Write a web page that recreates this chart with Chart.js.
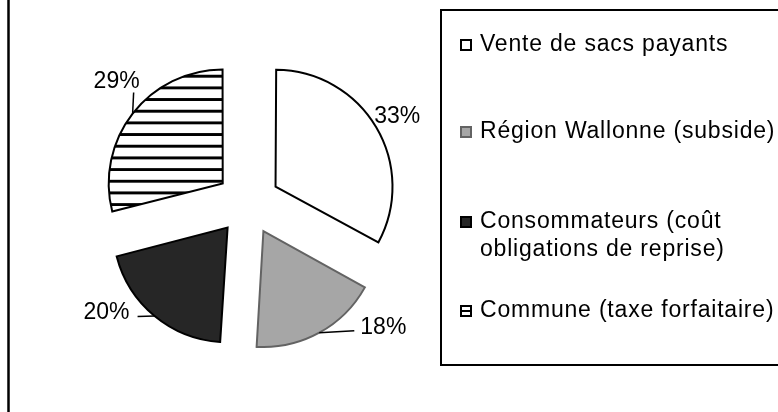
<!DOCTYPE html>
<html>
<head>
<meta charset="utf-8">
<script src="https://cdn.jsdelivr.net/npm/chart.js@4.4.0/dist/chart.umd.min.js"></script>
<style>
  html, body { margin: 0; padding: 0; background: #fff; }
  #wrap { width: 778px; height: 412px; }
</style>
</head>
<body>
<div id="wrap"><canvas id="pieChart" width="778" height="412"></canvas></div>
<script>
// data
const categories = ['Vente de sacs payants', 'Région Wallonne (subside)', 'Consommateurs (coût obligations de reprise)', 'Commune (taxe forfaitaire)'];
const shares = [33, 18, 20, 29];
const shareLabels = ['33%', '18%', '20%', '29%'];

const FONT = '23px "Liberation Sans", Arial, sans-serif';
const ctx = document.getElementById('pieChart').getContext('2d');

// horizontal hatching for the last slice
function hatchPattern() {
  const c = document.createElement('canvas');
  c.width = 12; c.height = 12;
  const g = c.getContext('2d');
  g.fillStyle = '#fff';
  g.fillRect(0, 0, 12, 12);
  g.fillStyle = '#000';
  g.fillRect(0, 1, 12, 3);
  const p = ctx.createPattern(c, 'repeat');
  p.setTransform(new DOMMatrix().scale(1, 11.67 / 12));
  return p;
}

const fills = ['#ffffff', '#a6a6a6', '#262626', hatchPattern()];
const borders = ['#000000', '#636363', '#000000', '#000000'];

// where each percentage label sits relative to the middle of its arc
const labelPlacement = [
  { lead: null, tx: -2, ty: -4, align: 'left' },
  { lead: [35, -2], tx: 41, ty: 1, align: 'left' },
  { lead: [-17, 0.5], tx: -25, ty: 3.5, align: 'right' },
  { lead: [1, -21], tx: -16, ty: -26, align: 'center' }
];

const framePlugin = {
  id: 'frame',
  beforeDraw(chart) {
    const c = chart.ctx;
    c.save();
    c.fillStyle = '#fff';
    c.fillRect(0, 0, chart.width, chart.height);
    c.strokeStyle = '#000';
    c.lineWidth = 2.5;
    c.beginPath();
    c.moveTo(8.5, 0);
    c.lineTo(8.5, chart.height);
    c.stroke();
    c.restore();
  }
};

const sliceLabels = {
  id: 'sliceLabels',
  afterDatasetsDraw(chart) {
    const c = chart.ctx;
    const meta = chart.getDatasetMeta(0);
    c.save();
    c.font = FONT;
    c.fillStyle = '#000';
    c.strokeStyle = '#000';
    c.lineWidth = 1.5;
    c.textBaseline = 'alphabetic';
    meta.data.forEach((arc, i) => {
      const { x, y, startAngle, endAngle, outerRadius } = arc.getProps(['x', 'y', 'startAngle', 'endAngle', 'outerRadius'], true);
      const off = (arc.options.offset || 0) / 4;
      const mid = (startAngle + endAngle) / 2;
      const fix = 1 - Math.sin(Math.min(Math.PI, endAngle - startAngle));
      const r = outerRadius + off * fix;
      const ex = x + Math.cos(mid) * (off + r);
      const ey = y + Math.sin(mid) * (off + r);
      const p = labelPlacement[i];
      if (p.lead) {
        c.beginPath();
        c.moveTo(ex, ey);
        c.lineTo(ex + p.lead[0], ey + p.lead[1]);
        c.stroke();
      }
      c.textAlign = p.align;
      c.fillText(shareLabels[i], ex + p.tx, ey + p.ty);
    });
    c.restore();
  }
};

// legend box on the right
const legendBaselines = [51, 138, 228, 317];
const boxLegend = {
  id: 'boxLegend',
  afterDraw(chart) {
    const c = chart.ctx;
    const ds = chart.data.datasets[0];
    c.save();
    c.strokeStyle = '#000';
    c.lineWidth = 2;
    c.strokeRect(441, 10, 400, 355);
    c.font = FONT;
    c.letterSpacing = '0.8px';
    c.textAlign = 'left';
    c.fillStyle = '#000';
    chart.data.labels.forEach((label, i) => {
      // greedy wrap
      const words = label.split(' ');
      const lines = [];
      let line = '';
      words.forEach(w => {
        const test = line ? line + ' ' + w : w;
        if (c.measureText(test).width > 310 && line) {
          lines.push(line);
          line = w;
        } else {
          line = test;
        }
      });
      lines.push(line);
      const base = legendBaselines[i];
      // marker
      const mx = 461, my = base - 11;
      c.fillStyle = i === 3 ? '#fff' : ds.backgroundColor[i];
      c.fillRect(mx, my, 10, 10);
      if (i === 3) {
        c.fillStyle = '#000';
        c.fillRect(mx, my + 4, 10, 2);
      }
      c.strokeStyle = ds.borderColor[i];
      c.lineWidth = 2;
      c.strokeRect(mx, my, 10, 10);
      c.fillStyle = '#000';
      lines.forEach((t, k) => c.fillText(t, 480, base + k * 28));
    });
    c.restore();
  }
};

new Chart(ctx, {
  type: 'pie',
  data: {
    labels: categories,
    datasets: [{
      data: shares,
      backgroundColor: fills,
      borderColor: borders,
      borderWidth: 2,
      borderJoinStyle: 'miter',
      offset: 128,
      radius: 113
    }]
  },
  options: {
    responsive: false,
    animation: false,
    layout: { padding: { left: 100, right: 382, top: 60, bottom: 66 } },
    plugins: {
      legend: { display: false },
      tooltip: { enabled: false }
    }
  },
  plugins: [framePlugin, sliceLabels, boxLegend]
});
</script>
</body>
</html>
